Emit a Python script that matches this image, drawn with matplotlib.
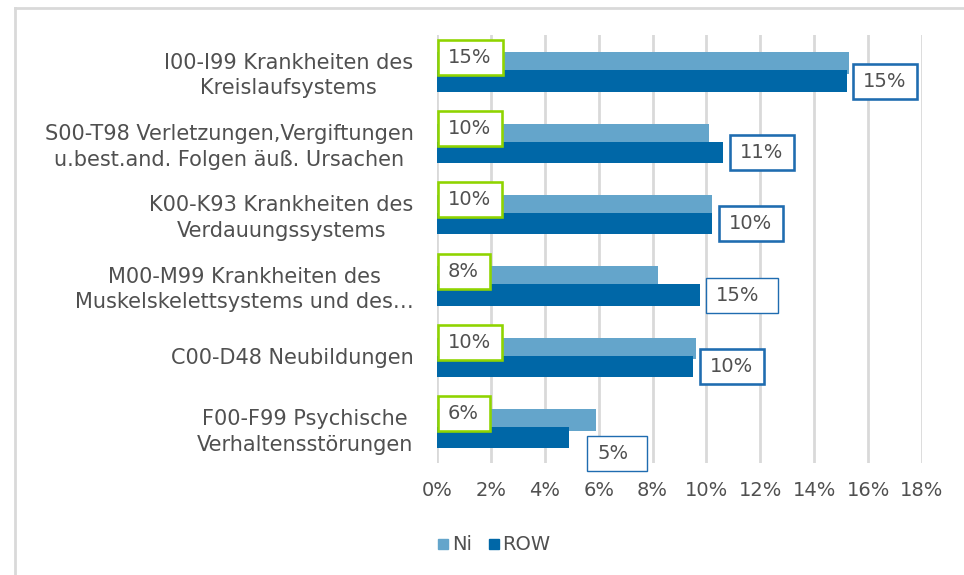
import matplotlib
matplotlib.use("Agg")
import matplotlib.pyplot as plt
from matplotlib.patches import Rectangle
from matplotlib.lines import Line2D
import numpy as np

categories = [
    "I00-I99 Krankheiten des\nKreislaufsystems",
    "S00-T98 Verletzungen,Vergiftungen\nu.best.and. Folgen äuß. Ursachen",
    "K00-K93 Krankheiten des\nVerdauungssystems",
    "M00-M99 Krankheiten des\nMuskelskelettsystems und des…",
    "C00-D48 Neubildungen",
    "F00-F99 Psychische\nVerhaltensstörungen",
]
ni_values = [15.3, 10.1, 10.2, 8.2, 9.6, 5.9]
row_values = [15.2, 10.6, 10.2, 9.75, 9.5, 4.9]
ni_labels = ["15%", "10%", "10%", "8%", "10%", "6%"]
row_labels = ["15%", "11%", "10%", "15%", "10%", "5%"]
xticks = [0, 2, 4, 6, 8, 10, 12, 14, 16, 18]
xtick_labels = ["0%", "2%", "4%", "6%", "8%", "10%", "12%", "14%", "16%", "18%"]
series_names = ["Ni", "ROW"]

NI_COLOR = "#64a5cb"
ROW_COLOR = "#0067a7"
GREEN = "#8fd400"
BLUE = "#1f6cb0"
TXT = "#505050"
GRID = "#d9d9d9"
FS = 14
CAT_FS = 15

# per-label styling for the ROW boxes: (x offset px, y offset px, border width px, extra right pad px)
row_box_style = [(16, 0, 2.6, 0), (17, 0, 2.6, 0), (17, 0, 2.6, 0),
                 (16, 0, 1.4, 8), (17, 0, 2.6, 0), (28, 16, 1.4, 8)]

plt.rcParams['font.family'] = ['DejaVu Sans']
fig = plt.figure(figsize=(9.64, 5.75), dpi=100)
ax = fig.add_axes([437 / 964, 1 - 463 / 575, 485 / 964, 428 / 575])

y = np.arange(len(categories))
h = 0.30
ax.barh(y - 0.105, ni_values, height=h, color=NI_COLOR, zorder=2, label=series_names[0])
ax.barh(y + 0.145, row_values, height=h, color=ROW_COLOR, zorder=3, label=series_names[1])

ax.set_xlim(0, 18)
ax.set_ylim(len(categories) - 0.5, -0.5)
ax.set_xticks(xticks)
ax.set_xticklabels(xtick_labels)
ax.set_yticks(y)
ax.set_yticklabels(categories)
ax.tick_params(axis='both', length=0, labelsize=FS, labelcolor=TXT)
ax.tick_params(axis='y', pad=17, labelsize=CAT_FS)
ax.tick_params(axis='x', pad=13)
for t in ax.get_yticklabels():
    t.set_multialignment('center')
    t.set_linespacing(1.35)
for s in ax.spines.values():
    s.set_visible(False)
ax.grid(axis='x', color=GRID, linewidth=2.0, zorder=0)
ax.set_axisbelow(True)

px = 72 / 100.0  # points per pixel

texts = []
for i in range(len(categories)):
    t = ax.annotate(ni_labels[i], xy=(0, y[i] - 0.105), xytext=(11 * px, 6 * px),
                    textcoords='offset points', ha='left', va='center',
                    fontsize=FS, color=TXT, zorder=6, annotation_clip=False)
    texts.append((t, GREEN, 2.6, 0))
    dx, dy, lw, extra = row_box_style[i]
    t2 = ax.annotate(row_labels[i], xy=(row_values[i], y[i] + 0.145),
                     xytext=(dx * px, -dy * px), textcoords='offset points',
                     ha='left', va='center', fontsize=FS, color=TXT, zorder=6,
                     annotation_clip=False)
    texts.append((t2, BLUE, lw, extra))

fig.canvas.draw()
renderer = fig.canvas.get_renderer()
inv = fig.transFigure.inverted()
for t, col, lw, extra in texts:
    bb = t.get_window_extent(renderer)
    cy = (bb.y0 + bb.y1) / 2
    x0 = bb.x0 - 10
    x1 = bb.x1 + 11 + extra
    y0 = cy - 17.5
    y1 = cy + 17.5
    (fx0, fy0) = inv.transform((x0, y0))
    (fx1, fy1) = inv.transform((x1, y1))
    rect = Rectangle((fx0, fy0), fx1 - fx0, fy1 - fy0, transform=fig.transFigure,
                     facecolor='white', edgecolor=col, linewidth=lw * px, zorder=5)
    ax.add_artist(rect)
    rect.set_clip_on(False)

# legend
handles = [Line2D([], [], marker='s', linestyle='none', markersize=7.5, color=NI_COLOR),
           Line2D([], [], marker='s', linestyle='none', markersize=7.5, color=ROW_COLOR)]
fig.legend(handles, series_names, loc='center', bbox_to_anchor=(494 / 964, 1 - 545 / 575),
           ncol=2, frameon=False, fontsize=FS, labelcolor=TXT, handlelength=0.6,
           handletextpad=0.15, columnspacing=0.8)

# outer frame (left and top edges visible)
fig.add_artist(Line2D([15 / 964, 15 / 964], [0, 1 - 8 / 575], transform=fig.transFigure,
                      color=GRID, linewidth=2))
fig.add_artist(Line2D([15 / 964, 1], [1 - 8 / 575, 1 - 8 / 575], transform=fig.transFigure,
                      color=GRID, linewidth=2))

fig.savefig("out.png", dpi=100)
